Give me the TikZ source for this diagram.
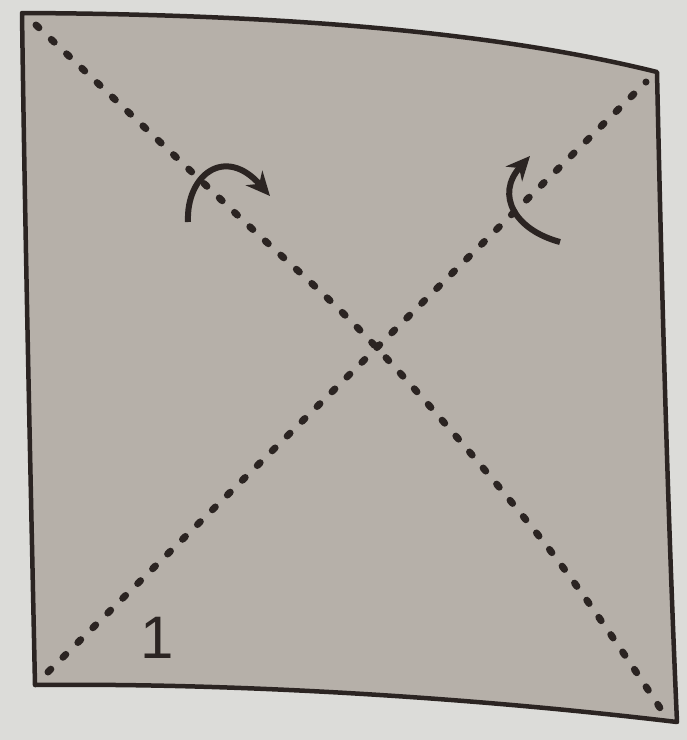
\documentclass[tikz,border=0pt]{standalone}
\usepackage{fontspec}
\setmainfont{Liberation Sans}
\usetikzlibrary{arrows.meta}
\definecolor{bgc}{HTML}{DCDCD9}
\definecolor{paper}{HTML}{B6B0A9}
\definecolor{ink}{HTML}{2B2422}
\tikzset{
  foldline/.style={ink, line width=7pt, line cap=round, dash pattern=on 4pt off 17pt},
  edge/.style={ink, line width=4.5pt, line join=round},
  foldarrow/.style={ink, line width=6pt, -{Stealth[length=24pt,width=22pt]}},
  lbl/.style={ink, font=\fontsize{60}{60}\selectfont, inner sep=0pt}
}
\begin{document}
\begin{tikzpicture}[x=1pt,y=-1pt]
\useasboundingbox (0,0) rectangle (687,740);
\fill[bgc] (0,0) rectangle (687,740);
\coordinate (tl) at (22,13);
\coordinate (tr) at (657,72);
\coordinate (br) at (677,722);
\coordinate (bl) at (35,685);
\filldraw[edge, fill=paper] (tl) .. controls (250,14) and (480,28) .. (tr)
  .. controls (662,300) and (668,520) .. (br)
  .. controls (450,695) and (220,683) .. (bl)
  .. controls (30,450) and (25,230) .. (tl) -- cycle;
\draw[foldline] plot[smooth, tension=0.6] coordinates {(36,25) (232,210) (377,348) (546,545) (664,714)};
\coordinate (d2s) at (48,672);
\coordinate (d2e) at (646,82);
\draw[foldline] (d2s) -- (d2e);
\coordinate (a1s) at (188,222);
\coordinate (a1e) at (270,196);
\draw[foldarrow] (a1s) .. controls (186,175) and (225,145) .. (a1e);
\coordinate (a2s) at (560,242);
\coordinate (a2e) at (530,156);
\draw[foldarrow] (a2s) .. controls (515,230) and (495,195) .. (a2e);
\node[lbl] (n1) at (157,638) {1};
\end{tikzpicture}
\end{document}
